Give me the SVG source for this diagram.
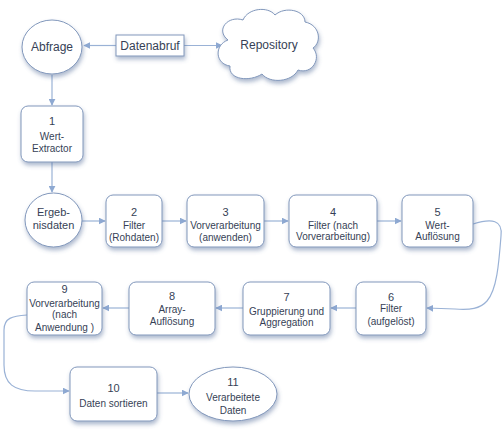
<svg xmlns="http://www.w3.org/2000/svg" width="504" height="436" viewBox="0 0 504 436">
<defs>
<filter id="sh" x="-30%" y="-30%" width="160%" height="170%">
<feDropShadow dx="1" dy="3" stdDeviation="2.2" flood-color="#4a6694" flood-opacity="0.45"/>
</filter>
<marker id="ah" viewBox="0 0 10 10" refX="9" refY="5" markerWidth="7" markerHeight="7" markerUnits="userSpaceOnUse" orient="auto">
<path d="M0,0 L10,5 L0,10 Z" fill="#8ea9d2"/>
</marker>
<style>
.n{fill:#ffffff;stroke:#8197bb;stroke-width:1;filter:url(#sh)}
.t{font-family:"Liberation Sans",Arial,sans-serif;font-size:10px;fill:#363f56;text-anchor:middle}
.num{font-size:11px}
.big{font-size:12px}
.mid{font-size:11px}
.c{fill:none;stroke:#9ab2d6;stroke-width:1.2;marker-end:url(#ah)}
</style>
</defs>
<rect width="504" height="436" fill="#ffffff"/>
<g id="connectors">
<path class="c" d="M116,45.5 L84,45.5"/>
<path class="c" d="M184,45.5 L222,45.5"/>
<path class="c" d="M52,75 L52,105"/>
<path class="c" d="M52,162 L52,192"/>
<path class="c" d="M82,221 L105,221"/>
<path class="c" d="M162,221 L186,221"/>
<path class="c" d="M264,221 L288,221"/>
<path class="c" d="M377,221 L401,221"/>
<path class="c" stroke-width="1" d="M473,224 C492,218 503,220 501,236 C499,262 497,290 487,301 C480,309 470,310 455,309 L427,308"/>
<path class="c" d="M356,308 L331,308"/>
<path class="c" d="M243,308 L216,308"/>
<path class="c" d="M129,308 L103,308"/>
<path class="c" stroke-width="1" d="M27,315 C12,316 4,318 4,330 L4,365 C4,384 14,391 35,391 L69,391"/>
<path class="c" d="M157,393 L188,393"/>
</g>
<g id="abfrage">
<ellipse class="n" cx="52" cy="47" rx="30" ry="27"/>
<text class="t big" x="52" y="51">Abfrage</text>
</g>
<g id="datenabruf">
<rect class="n" x="116" y="35" width="68" height="21" stroke="#6f84a8"/>
<text class="t big" x="150" y="50">Datenabruf</text>
</g>
<g id="repository">
<path class="n" d="M228,40 C215,30 228,15 243,20 C248,8 268,6 275,15 C285,6 305,10 305,22 C320,25 322,42 313,48 C322,58 312,75 298,70 C292,82 270,84 262,74 C250,82 228,80 230,66 C215,64 214,45 228,40 Z"/>
<text class="t big" x="269" y="49">Repository</text>
</g>
<g id="n1">
<rect class="n" x="21" y="106" width="62" height="56" rx="7"/>
<text class="t num" x="52" y="125">1</text>
<text class="t" x="52" y="139.5">Wert-</text>
<text class="t" x="52" y="151.5">Extractor</text>
</g>
<g id="ergebnisdaten">
<ellipse class="n" cx="53.5" cy="220" rx="28.5" ry="27"/>
<text class="t mid" x="53.5" y="215.5">Ergeb-</text>
<text class="t mid" x="53.5" y="228.5">nisdaten</text>
</g>
<g id="n2">
<rect class="n" x="106" y="195" width="56" height="52" rx="7"/>
<text class="t num" x="134" y="216">2</text>
<text class="t" x="134" y="228.5">Filter</text>
<text class="t" x="134" y="240.5">(Rohdaten)</text>
</g>
<g id="n3">
<rect class="n" x="187" y="195" width="77" height="52" rx="7"/>
<text class="t num" x="225.5" y="216">3</text>
<text class="t" x="225.5" y="228.5">Vorverarbeitung</text>
<text class="t" x="225.5" y="240.5">(anwenden)</text>
</g>
<g id="n4">
<rect class="n" x="289" y="195" width="88" height="52" rx="7"/>
<text class="t num" x="333" y="216">4</text>
<text class="t" x="333" y="228.5">Filter (nach</text>
<text class="t" x="333" y="240">Vorverarbeitung)</text>
</g>
<g id="n5">
<rect class="n" x="402" y="195" width="71" height="52" rx="7"/>
<text class="t num" x="437.5" y="216">5</text>
<text class="t" x="437.5" y="228.5">Wert-</text>
<text class="t" x="437.5" y="240">Auflösung</text>
</g>
<g id="n6">
<rect class="n" x="356" y="282" width="70" height="53" rx="7"/>
<text class="t num" x="391" y="301">6</text>
<text class="t" x="391" y="311.5">Filter</text>
<text class="t" x="391" y="324.5">(aufgelöst)</text>
</g>
<g id="n7">
<rect class="n" x="243" y="282" width="87" height="53" rx="7"/>
<text class="t num" x="286.5" y="301">7</text>
<text class="t" x="286.5" y="314.5">Gruppierung und</text>
<text class="t" x="286.5" y="325.5">Aggregation</text>
</g>
<g id="n8">
<rect class="n" x="129" y="282" width="86" height="53" rx="7"/>
<text class="t num" x="172" y="300">8</text>
<text class="t" x="172" y="312.5">Array-</text>
<text class="t" x="172" y="324.5">Auflösung</text>
</g>
<g id="n9">
<rect class="n" x="27" y="282" width="75" height="53" rx="7"/>
<text class="t num" x="64.5" y="293">9</text>
<text class="t" x="64.5" y="306.5">Vorverarbeitung</text>
<text class="t" x="64.5" y="317.5">(nach</text>
<text class="t" x="64.5" y="330.5">Anwendung )</text>
</g>
<g id="n10">
<rect class="n" x="70" y="367" width="87" height="54" rx="7"/>
<text class="t num" x="113.5" y="392">10</text>
<text class="t" x="113.5" y="406.5">Daten sortieren</text>
</g>
<g id="n11">
<ellipse class="n" cx="233" cy="394" rx="44" ry="27"/>
<text class="t num" x="233" y="386">11</text>
<text class="t" x="233" y="400.5">Verarbeitete</text>
<text class="t" x="233" y="414">Daten</text>
</g>
</svg>
